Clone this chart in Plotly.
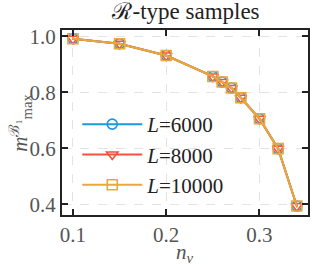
import plotly.graph_objects as go

nv = [0.10, 0.15, 0.20, 0.25, 0.26, 0.27, 0.28, 0.30, 0.32, 0.34]
m_L6000 = [0.992, 0.974, 0.932, 0.857, 0.837, 0.816, 0.781, 0.706, 0.599, 0.394]
m_L8000 = [0.992, 0.974, 0.932, 0.857, 0.837, 0.816, 0.781, 0.706, 0.599, 0.394]
m_L10000 = [0.992, 0.974, 0.932, 0.857, 0.837, 0.816, 0.781, 0.706, 0.599, 0.394]
err = [0.003, 0.003, 0.003, 0.003, 0.003, 0.003, 0.003, 0.003, 0.004, 0.004]
labels = ["<i>L</i>=6000", "<i>L</i>=8000", "<i>L</i>=10000"]
colors = ["#1B98E0", "#F5503A", "#E8A93A"]
symbols = ["circle-open", "triangle-down-open", "square-open"]

FONT = "Liberation Serif"
fig = go.Figure()
for ys, lab, c, s in zip([m_L6000, m_L8000, m_L10000], labels, colors, symbols):
    fig.add_trace(go.Scatter(
        x=nv, y=ys, name=lab, mode="lines+markers",
        line=dict(color=c, width=2),
        marker=dict(symbol=s, size=10, color=c, line=dict(width=1.6, color=c)),
        error_y=dict(type="data", array=err, color=c, thickness=1.5, width=0),
    ))

axis_common = dict(
    showline=True, linewidth=2, linecolor="#222", mirror="ticks",
    ticks="inside", ticklen=6, tickwidth=2, tickcolor="#222",
    showgrid=True, gridcolor="#e3e3e3", griddash="dash", gridwidth=1,
    zeroline=False, tickfont=dict(family=FONT, size=21, color="#555"),
)
fig.update_xaxes(range=[0.0883, 0.352], tickvals=[0.1, 0.2, 0.3], ticktext=["0.1", "0.2", "0.3"],
                 **axis_common)
fig.update_yaxes(range=[0.362, 1.023], tickvals=[0.4, 0.6, 0.8, 1.0], ticktext=["0.4", "0.6", "0.8", "1.0"],
                 **axis_common)
fig.update_layout(
    width=318, height=266,
    margin=dict(l=62, r=8, t=30, b=51),
    paper_bgcolor="white", plot_bgcolor="white",
    title=dict(text="ℛ-type samples", x=0.585, xanchor="center", y=0.99, yanchor="top",
               font=dict(family=FONT, size=23, color="#222")),
    legend=dict(x=0.062, y=0.6, xanchor="left", yanchor="top", bgcolor="rgba(0,0,0,0)",
                font=dict(family=FONT, size=21, color="#222"), tracegroupgap=0, itemwidth=60),
    showlegend=True,
    annotations=[
        dict(text="<i>n</i><sub><i>v</i></sub>", xref="paper", yref="paper", x=0.5, y=-0.125,
             xanchor="center", yanchor="top", showarrow=False,
             font=dict(family=FONT, size=21, color="#555")),
        dict(text="<i>m</i><sup>ℬ₁</sup><sub>max</sub>", xref="paper", yref="paper",
             x=-0.17, y=0.5, xanchor="center", yanchor="middle", textangle=-90, showarrow=False,
             font=dict(family=FONT, size=21, color="#555")),
    ],
)
fig.write_html("out.html", config={"displayModeBar": False},
               post_script="document.body.style.margin='0';document.body.style.padding='0';")
